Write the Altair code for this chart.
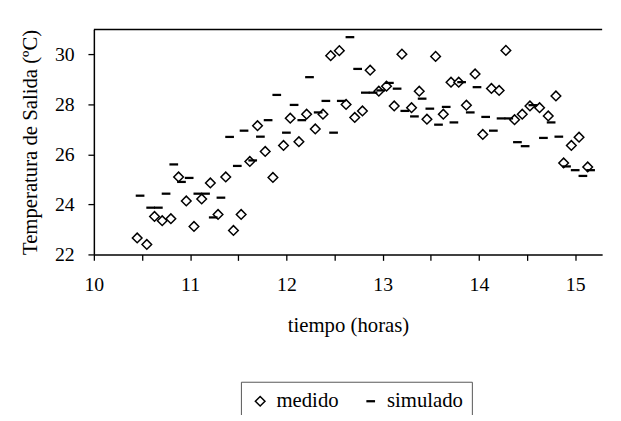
import altair as alt
import pandas as pd

# measured values (hours, °C)
med_t = [10.45, 10.55, 10.63, 10.71, 10.80, 10.88, 10.96, 11.04, 11.12, 11.21,
         11.29, 11.37, 11.45, 11.53, 11.62, 11.70, 11.78, 11.86, 11.97, 12.04,
         12.13, 12.21, 12.30, 12.38, 12.46, 12.55, 12.62, 12.71, 12.79, 12.87,
         12.96, 13.04, 13.12, 13.20, 13.30, 13.38, 13.46, 13.55, 13.63, 13.71,
         13.79, 13.87, 13.96, 14.04, 14.13, 14.21, 14.28, 14.37, 14.45, 14.53,
         14.63, 14.72, 14.80, 14.88, 14.96, 15.04, 15.13]
med_T = [22.66, 22.40, 23.52, 23.35, 23.43, 25.10, 24.14, 23.12, 24.22, 24.86,
         23.60, 25.10, 22.96, 23.60, 25.72, 27.15, 26.12, 25.08, 26.36, 27.45,
         26.51, 27.61, 27.02, 27.61, 29.95, 30.15, 28.00, 27.48, 27.74, 29.37,
         28.53, 28.73, 27.94, 30.01, 27.87, 28.53, 27.41, 29.92, 27.61, 28.89,
         28.89, 27.97, 29.22, 26.80, 28.64, 28.56, 30.16, 27.39, 27.61, 27.94,
         27.87, 27.54, 28.34, 25.66, 26.36, 26.69, 25.50]

# simulated values
sim_t = [10.48, 10.59, 10.67, 10.75, 10.83, 10.91, 10.99, 11.08, 11.16, 11.24,
         11.32, 11.41, 11.49, 11.56, 11.65, 11.73, 11.81, 11.90, 12.00, 12.08,
         12.16, 12.24, 12.33, 12.41, 12.49, 12.57, 12.66, 12.74, 12.82, 12.90,
         12.98, 13.07, 13.15, 13.23, 13.33, 13.41, 13.49, 13.58, 13.66, 13.74,
         13.82, 13.91, 13.98, 14.07, 14.15, 14.23, 14.31, 14.40, 14.48, 14.56,
         14.67, 14.75, 14.83, 14.91, 15.00, 15.08, 15.16]
sim_T = [24.35, 23.87, 23.87, 24.43, 25.60, 24.90, 25.06, 24.43, 24.43, 23.48,
         24.27, 26.70, 25.54, 26.95, 25.76, 26.71, 27.37, 28.38, 26.87, 27.98,
         27.37, 29.09, 27.68, 28.14, 26.87, 28.14, 30.69, 29.42, 28.47, 28.47,
         28.56, 28.86, 28.63, 27.74, 27.52, 28.23, 27.83, 27.19, 27.90, 27.28,
         28.89, 27.68, 28.69, 27.50, 26.95, 27.44, 27.44, 26.49, 26.33, 27.97,
         26.66, 27.28, 26.71, 25.52, 25.37, 25.14, 25.37]

series = ["medido", "simulado"]
x_ticks = [10 + 0.5 * i for i in range(11)]
y_ticks = list(range(22, 31))

df = pd.concat([
    pd.DataFrame({"t": med_t, "T": med_T, "serie": series[0]}),
    pd.DataFrame({"t": sim_t, "T": sim_T, "serie": series[1]}),
], ignore_index=True)

FONT = "Liberation Serif"
DASH = "M-0.75,-0.08L0.75,-0.08L0.75,0.08L-0.75,0.08Z"

x_scale = alt.Scale(domain=[10, 15.28], nice=False, zero=False)
y_scale = alt.Scale(domain=[22, 31], nice=False, zero=False)

legend = alt.Legend(title=None, orient="none", legendX=149, legendY=357,
                    direction="horizontal", strokeColor="#555555",
                    padding=9, labelFont=FONT, labelFontSize=21,
                    labelColor="black", symbolStrokeWidth=1.5, symbolSize=95,
                    labelOffset=6, columnPadding=22, fillColor="white")

points = alt.Chart(df).mark_point(filled=True, size=95, strokeWidth=1.5, opacity=1).encode(
    x=alt.X("t:Q", scale=x_scale,
            axis=alt.Axis(values=x_ticks, title="tiempo (horas)", labelFlush=False,
                          labelExpr="datum.value % 1 == 0 ? format(datum.value, 'd') : ''",
                          labelPadding=15, titlePadding=20)),
    y=alt.Y("T:Q", scale=y_scale,
            axis=alt.Axis(values=y_ticks, title="Temperatura de Salida (ºC)", labelFlush=False,
                          labelExpr="datum.value % 2 == 0 ? format(datum.value, 'd') : ''",
                          labelPadding=14, titlePadding=14)),
    shape=alt.Shape("serie:N", scale=alt.Scale(domain=series, range=["diamond", DASH]), legend=legend),
    fill=alt.Fill("serie:N", scale=alt.Scale(domain=series, range=["white", "black"]), legend=legend),
    stroke=alt.Stroke("serie:N", scale=alt.Scale(domain=series, range=["black", "black"]), legend=legend),
)

top_line = alt.Chart(pd.DataFrame({"y": [31]})).mark_rule(color="black", strokeWidth=1.5).encode(
    y=alt.Y("y:Q", scale=y_scale)
)

chart = alt.layer(points, top_line).properties(
    width=515, height=228,
    background="white",
    autosize=alt.AutoSizeParams(type="none"),
    padding={"left": 87, "top": 19, "right": 11, "bottom": 160},
).configure(font=FONT).configure_view(stroke=None).configure_axis(
    grid=False, domainColor="black", domainWidth=1.5, tickColor="black", tickWidth=1.3,
    tickSize=6, labelFont=FONT, labelFontSize=20, labelColor="black",
    titleFont=FONT, titleFontSize=21, titleFontWeight="normal", titleColor="black",
).configure_legend(
    labelFont=FONT, labelFontSize=21, labelColor="black",
)

chart.save("out.html", embed_options={"renderer": "svg", "actions": False})
